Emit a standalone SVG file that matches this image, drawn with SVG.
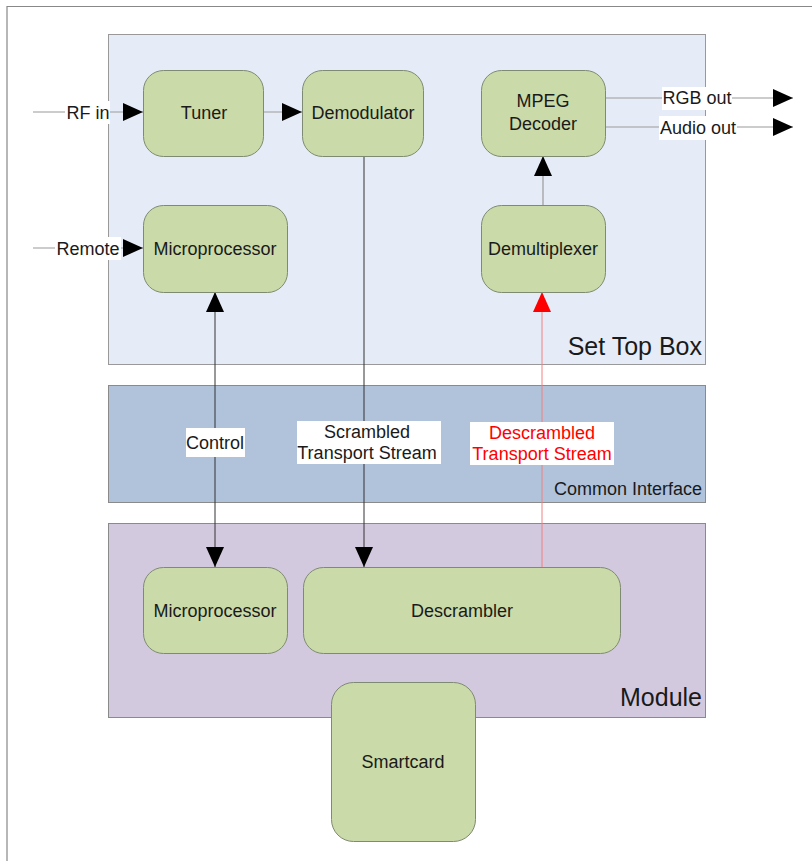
<svg xmlns="http://www.w3.org/2000/svg" width="812" height="861" viewBox="0 0 812 861">
<style>
text{font-family:"Liberation Sans",Arial,sans-serif;fill:#1a1a1a}
.n{fill:#cbdaa9;stroke:#7f8a72;stroke-width:1}
.t{font-size:18px;text-anchor:middle}
.l{stroke:#9a9a9a;stroke-width:1.2;fill:none}
.k{stroke:#333;stroke-width:1;fill:none}
.r{stroke:#f08080;stroke-width:1;fill:none}
.bg{fill:#fff}
</style>
<defs>
<marker id="ab" markerUnits="userSpaceOnUse" markerWidth="20" markerHeight="20" viewBox="0 0 20 20" refX="20" refY="10" orient="auto"><path d="M0,1 L20,10 L0,19 Z" fill="#000"/></marker>
<marker id="abs" markerUnits="userSpaceOnUse" markerWidth="20" markerHeight="20" viewBox="0 0 20 20" refX="20" refY="10" orient="auto-start-reverse"><path d="M0,1 L20,10 L0,19 Z" fill="#000"/></marker>
<marker id="ar" markerUnits="userSpaceOnUse" markerWidth="20" markerHeight="20" viewBox="0 0 20 20" refX="20" refY="10" orient="auto"><path d="M0,1 L20,10 L0,19 Z" fill="#f00"/></marker>
</defs>
<rect width="812" height="861" fill="#fff"/>
<path d="M7,861 V6.5 H812" stroke="#888" stroke-width="1.2" fill="none"/>
<g id="settopbox"><rect x="108.5" y="34.5" width="597" height="330" fill="#e6ecf7" stroke="#999"/><text x="702" y="355" style="font-size:25px;text-anchor:end">Set Top Box</text></g>
<g id="commoninterface"><rect x="108.5" y="385.5" width="597" height="117" fill="#b0c3db" stroke="#8a8a8a"/><text x="702" y="495" style="font-size:18px;text-anchor:end">Common Interface</text></g>
<g id="module"><rect x="108.5" y="523.5" width="597" height="194" fill="#d3c9df" stroke="#8a8a8a"/><text x="702" y="706" style="font-size:25px;text-anchor:end">Module</text></g>
<g id="connectors">
<line class="l" x1="33" y1="112" x2="143" y2="112" marker-end="url(#ab)"/>
<line class="l" x1="33" y1="248" x2="143" y2="248" marker-end="url(#ab)"/>
<line class="l" x1="264" y1="112" x2="302" y2="112" marker-end="url(#ab)"/>
<line class="l" x1="605" y1="98" x2="793" y2="98" marker-end="url(#ab)"/>
<line class="l" x1="605" y1="127" x2="793" y2="127" marker-end="url(#ab)"/>
<line class="l" x1="543" y1="205" x2="543" y2="156" marker-end="url(#ab)"/>
<line class="k" x1="215" y1="292" x2="215" y2="567" marker-start="url(#abs)" marker-end="url(#ab)"/>
<line class="k" x1="364" y1="156" x2="364" y2="567" marker-end="url(#ab)"/>
<line class="r" x1="542" y1="567" x2="542" y2="292" marker-end="url(#ar)"/>
<rect class="bg" x="65" y="101" width="45" height="23"/><text class="t" x="88" y="119">RF in</text>
<rect class="bg" x="55" y="237" width="66" height="23"/><text class="t" x="88" y="255">Remote</text>
<rect class="bg" x="662" y="87" width="70" height="23"/><text class="t" x="697" y="104">RGB out</text>
<rect class="bg" x="659" y="116" width="78" height="24"/><text class="t" x="698" y="134">Audio out</text>
<rect class="bg" x="186" y="428" width="59" height="29"/><text class="t" x="215" y="449">Control</text>
<rect class="bg" x="297" y="421" width="144" height="43"/><text class="t" x="367" y="438">Scrambled</text><text class="t" x="367" y="459">Transport Stream</text>
<rect class="bg" x="470" y="422" width="144" height="43"/><text class="t" x="542" y="439" style="fill:#f00">Descrambled</text><text class="t" x="542" y="460" style="fill:#f00">Transport Stream</text>
</g>
<g id="tuner"><rect class="n" x="143.5" y="70.5" width="120" height="86" rx="20"/><text class="t" x="204" y="119">Tuner</text></g>
<g id="demodulator"><rect class="n" x="302.5" y="70.5" width="121" height="86" rx="20"/><text class="t" x="363" y="119">Demodulator</text></g>
<g id="mpegdecoder"><rect class="n" x="481.5" y="70.5" width="124" height="86" rx="20"/><text class="t" x="543" y="107">MPEG</text><text class="t" x="543" y="130">Decoder</text></g>
<g id="microprocessor-stb"><rect class="n" x="143.5" y="205.5" width="144" height="87" rx="20"/><text class="t" x="215" y="255">Microprocessor</text></g>
<g id="demultiplexer"><rect class="n" x="481.5" y="205.5" width="124" height="87" rx="20"/><text class="t" x="543" y="255">Demultiplexer</text></g>
<g id="microprocessor-module"><rect class="n" x="143.5" y="567.5" width="144" height="86" rx="20"/><text class="t" x="215" y="617">Microprocessor</text></g>
<g id="descrambler"><rect class="n" x="303.5" y="567.5" width="317" height="86" rx="20"/><text class="t" x="462" y="617">Descrambler</text></g>
<g id="smartcard"><rect class="n" x="331.5" y="682.5" width="144" height="159" rx="22"/><text class="t" x="403" y="768">Smartcard</text></g>
</svg>
